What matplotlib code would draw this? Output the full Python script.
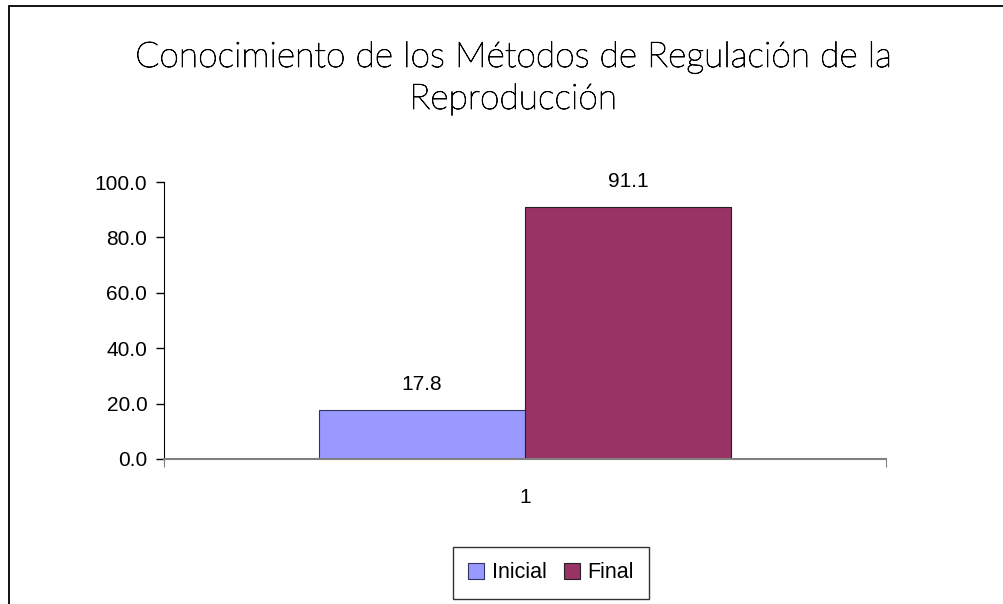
import matplotlib.pyplot as plt
import matplotlib.patheffects as pe
from matplotlib.patches import Rectangle

categories = ["1"]
series_names = ["Inicial", "Final"]
inicial = [17.8]
final = [91.1]
colors = ["#9999FF", "#993366"]
y_ticks = [0, 20, 40, 60, 80, 100]

plt.rcParams["font.family"] = ["Liberation Sans", "DejaVu Sans"]

fig = plt.figure(figsize=(10.04, 6.04), dpi=100)
W, H = 1004, 604

# outer chart frame (cropped at right/bottom like the original)
fig.add_artist(Rectangle((9 / W, -0.1), 1.2, 1 - 6 / H + 0.1, transform=fig.transFigure,
                         fill=False, edgecolor="black", linewidth=1.3))

title_font = dict(ha="center", va="center", fontsize=25.5, family=["Lato", "DejaVu Sans"],
                  fontweight="light", color="black",
                  path_effects=[pe.withStroke(linewidth=0.6, foreground="black")])
fig.text(513 / W, 1 - 57 / H, "Conocimiento de los Métodos de Regulación de la", **title_font)
fig.text(513 / W, 1 - 99 / H, "Reproducción", **title_font)

ax = fig.add_axes([164 / W, 1 - 459 / H, 722 / W, 277 / H])

w = 1 / 3.5
x = range(len(categories))
b1 = ax.bar([i - w / 2 for i in x], inicial, width=w, color=colors[0],
            edgecolor="#333366", linewidth=0.8, label=series_names[0])
b2 = ax.bar([i + w / 2 for i in x], final, width=w, color=colors[1],
            edgecolor="#222222", linewidth=0.8, label=series_names[1])

for bars, vals in [(b1, inicial), (b2, final)]:
    for r, v in zip(bars, vals):
        ax.annotate(f"{v:.1f}", (r.get_x() + r.get_width() / 2, v), xytext=(0, 11),
                    textcoords="offset points", ha="center", va="bottom", fontsize=15)

ax.set_xlim(-0.5, 0.5)
ax.set_ylim(0, 100)
ax.set_yticks(y_ticks)
ax.set_yticklabels([f"{t:.1f}" for t in y_ticks], fontsize=15)
ax.tick_params(axis="y", direction="out", length=6, width=1, pad=6)

ax.set_xticks([-0.5, 0.5])
ax.set_xticklabels(["", ""])
ax.set_xticks([0], minor=True)
ax.set_xticklabels(categories, minor=True, fontsize=15)
ax.tick_params(axis="x", which="major", direction="out", length=6, color="#808080")
ax.tick_params(axis="x", which="minor", length=0, pad=21)

for s in ["top", "right"]:
    ax.spines[s].set_visible(False)
ax.spines["left"].set_color("black")
ax.spines["bottom"].set_color("#808080")
ax.spines["bottom"].set_linewidth(1.5)

leg = fig.legend(handles=[b1, b2], loc="center", bbox_to_anchor=(551 / W, 1 - 573 / H),
                 ncol=2, fontsize=15.5, frameon=True, fancybox=False, handlelength=0.75,
                 handleheight=0.75, handletextpad=0.35, columnspacing=0.8, borderpad=0.7)
leg.get_frame().set_edgecolor("black")
leg.get_frame().set_linewidth(1)

fig.savefig("out.png", dpi=100)
